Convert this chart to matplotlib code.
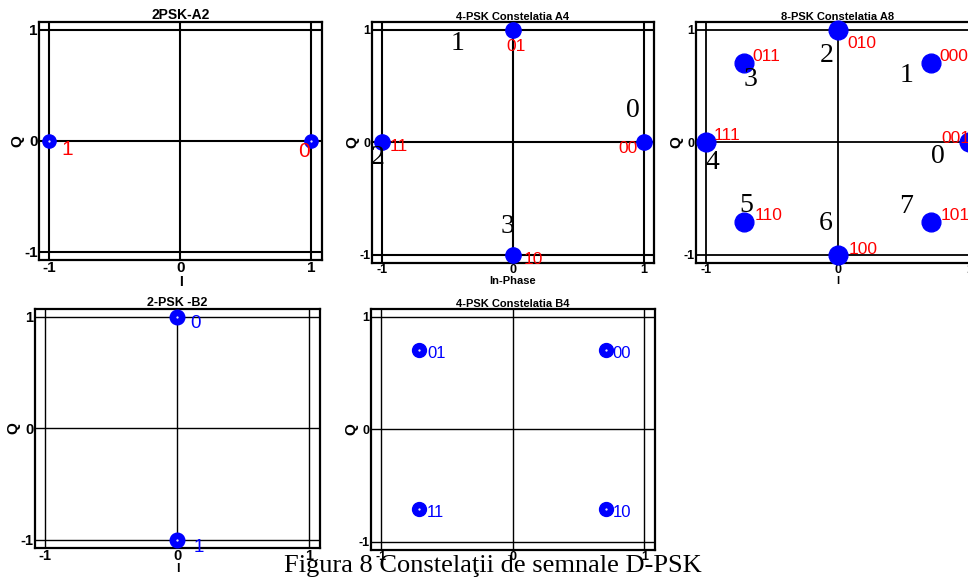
import numpy as np
import matplotlib
matplotlib.use('Agg')
import matplotlib.pyplot as plt

plt.rcParams['font.family'] = ['Liberation Sans', 'DejaVu Sans']
plt.rcParams['axes.unicode_minus'] = False

W, H = 968, 578
r = np.sqrt(2) / 2

# panel A2 - 2PSK
a2_i = [-1, 1]
a2_q = [0, 0]
a2_bits = ['1', '0']
a2_bits_xy = [(-0.86, -0.08), (0.94, -0.1)]

# panel A4 - 4PSK
a4_i = [1, 0, -1, 0]
a4_q = [0, 1, 0, -1]
a4_bits = ['00', '01', '11', '10']
a4_bits_xy = [(0.91, -0.06), (0.05, 0.85), (-0.84, -0.04), (0.18, -1.04)]
a4_idx = ['0', '1', '2', '3']
a4_idx_xy = [(0.92, 0.28), (-0.42, 0.88), (-1.03, -0.14), (-0.04, -0.75)]

# panel A8 - 8PSK
a8_i = [1, r, 0, -r, -1, -r, 0, r]
a8_q = [0, r, 1, r, 0, -r, -1, -r]
a8_bits = ['001', '000', '010', '011', '111', '110', '100', '101']
a8_bits_xy = [(0.79, 0.03), (0.77, 0.76), (0.07, 0.875), (-0.65, 0.76),
              (-0.94, 0.06), (-0.63, -0.65), (0.08, -0.955), (0.78, -0.65)]
a8_idx = ['0', '1', '2', '3', '4', '5', '6', '7']
a8_idx_xy = [(0.76, -0.13), (0.52, 0.59), (-0.08, 0.77), (-0.66, 0.56),
             (-0.95, -0.18), (-0.69, -0.56), (-0.09, -0.72), (0.52, -0.57)]

# panel B2 - 2PSK
b2_i = [0, 0]
b2_q = [1, -1]
b2_bits = ['0', '1']
b2_bits_xy = [(0.14, 0.94), (0.16, -1.07)]

# panel B4 - 4PSK
b4_i = [r, -r, -r, r]
b4_q = [r, r, -r, -r]
b4_bits = ['00', '01', '11', '10']
b4_bits_xy = [(0.76, 0.67), (-0.65, 0.67), (-0.65, -0.74), (0.76, -0.74)]

fig = plt.figure(figsize=(W / 100, H / 100), dpi=100)


def make_axes(x0, y0, x1, y1):
    return fig.add_axes([x0 / W, 1 - y1 / H, (x1 - x0) / W, (y1 - y0) / H])


def setup(ax, title, xlabel, tick_fs, title_fs, grid_lw):
    ax.set_xlim(-1.075, 1.08)
    ax.set_ylim(-1.075, 1.07)
    ax.set_xticks([-1, 0, 1])
    ax.set_yticks([-1, 0, 1])
    ax.grid(True, color='black', linewidth=grid_lw)
    ax.set_axisbelow(True)
    ax.tick_params(direction='in', length=0, pad=1, labelsize=tick_fs)
    for lab in ax.get_xticklabels() + ax.get_yticklabels():
        lab.set_fontweight('bold')
    for s in ax.spines.values():
        s.set_linewidth(1.6)
    ax.set_title(title, fontsize=title_fs, fontweight='bold', pad=1)
    ax.set_xlabel(xlabel, fontsize=title_fs, fontweight='bold', labelpad=0)
    ax.set_ylabel('Q', fontsize=11, fontweight='bold', labelpad=0)


def points(ax, xs, ys, ms, dot=False):
    ax.plot(xs, ys, 'o', color='blue', markersize=ms, clip_on=False, zorder=3)
    if dot:
        ax.plot(xs, ys, '.', color='white', markersize=1.2, clip_on=False, zorder=4)


def labels(ax, texts, xy, color, fs, ha='left', serif=False):
    fam = ['Liberation Serif'] if serif else ['Liberation Sans']
    for t, (x, y) in zip(texts, xy):
        ax.text(x, y, t, color=color, fontsize=fs, ha=ha, va='center',
                family=fam, clip_on=False, zorder=5)


# A2
ax = make_axes(39, 22, 322, 260)
setup(ax, '2PSK-A2', 'I', 11, 10, 1.5)
points(ax, a2_i, a2_q, 9.5, dot=True)
labels(ax, a2_bits, a2_bits_xy, 'red', 15, ha='center')

# A4
ax = make_axes(372, 22, 654, 263)
setup(ax, '4-PSK Constelatia A4', 'In-Phase', 9, 8, 1.5)
points(ax, a4_i, a4_q, 11)
labels(ax, a4_bits, [(x - 0.1, y) for x, y in a4_bits_xy], 'red', 12.5)
labels(ax, a4_idx, a4_idx_xy, 'black', 20, ha='center', serif=True)

# A8
ax = make_axes(696, 22, 980, 263)
setup(ax, '8-PSK Constelatia A8', 'I', 9, 8, 1.3)
points(ax, a8_i, a8_q, 13.5)
labels(ax, a8_bits, a8_bits_xy, 'red', 12.5)
labels(ax, a8_idx, a8_idx_xy, 'black', 20, ha='center', serif=True)

# B2
ax = make_axes(35, 309, 320, 548)
setup(ax, '2-PSK -B2', 'I', 10.5, 9, 1.0)
points(ax, b2_i, b2_q, 10.5, dot=True)
labels(ax, b2_bits, b2_bits_xy, 'blue', 13.5, ha='center')

# B4
ax = make_axes(371, 309, 655, 550)
setup(ax, '4-PSK Constelatia B4', '', 9, 8, 1.0)
points(ax, b4_i, b4_q, 10, dot=True)
labels(ax, b4_bits, b4_bits_xy, 'blue', 12)

fig.text(493 / W, 1 - 566 / H, 'Figura 8 Constelaţii de semnale D-PSK',
         family=['Liberation Serif'], fontsize=19, ha='center', va='center')

fig.savefig('out.png', dpi=100)
